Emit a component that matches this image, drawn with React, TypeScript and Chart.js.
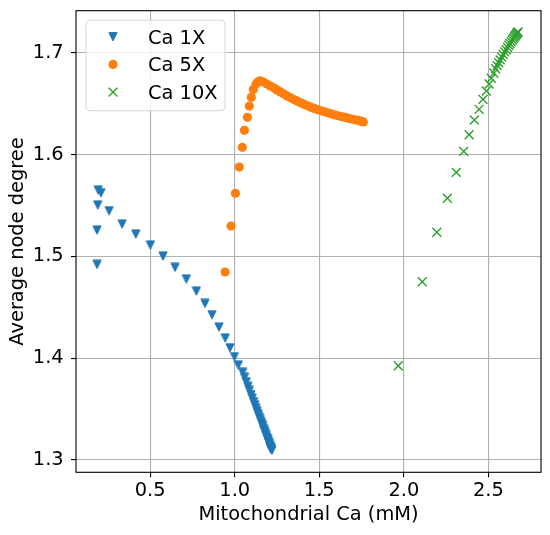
import React, { useEffect, useRef } from 'react';
import { Chart, registerables } from 'chart.js';

Chart.register(...registerables);

const seriesLabels = ['Ca 1X', 'Ca 5X', 'Ca 10X'];
const seriesColors = ['#1f77b4', '#ff7f0e', '#2ca02c'];

const ca1xX = [0.186, 0.186, 0.190, 0.193, 0.209, 0.257, 0.334, 0.415, 0.501, 0.576, 0.647, 0.714, 0.773, 0.824, 0.866, 0.907, 0.944, 0.972, 0.998, 1.021, 1.047,
  1.058, 1.068, 1.078, 1.087, 1.096, 1.104, 1.112, 1.119, 1.126, 1.133, 1.139, 1.145, 1.151, 1.156, 1.161, 1.166, 1.171, 1.175, 1.179, 1.183,
  1.187, 1.191, 1.194, 1.197, 1.200, 1.203, 1.206, 1.209, 1.211, 1.213, 1.215, 1.217, 1.219];
const ca1xY = [1.4921, 1.5258, 1.5504, 1.5651, 1.5625, 1.5448, 1.5317, 1.5219, 1.5111, 1.5003, 1.4892, 1.4777, 1.4659, 1.4538, 1.4426, 1.4305, 1.4197, 1.4102, 1.4014, 1.3932, 1.3861,
  1.3811, 1.3767, 1.3722, 1.3682, 1.3642, 1.3606, 1.3571, 1.3540, 1.3508, 1.3477, 1.3451, 1.3424, 1.3397, 1.3375, 1.3353, 1.3330, 1.3308, 1.3290, 1.3273, 1.3255,
  1.3237, 1.3219, 1.3206, 1.3193, 1.3179, 1.3166, 1.3152, 1.3139, 1.3130, 1.3121, 1.3112, 1.3104, 1.3095];

const ca5xX = [0.943, 0.978, 1.004, 1.027, 1.045, 1.057, 1.075, 1.086, 1.098, 1.110, 1.126, 1.138, 1.150, 1.170, 1.190, 1.210, 1.230, 1.250, 1.270, 1.290,
  1.310, 1.330, 1.350, 1.370, 1.390, 1.410, 1.430, 1.450, 1.470, 1.490, 1.510, 1.530, 1.550, 1.570, 1.590, 1.610, 1.630, 1.650, 1.670, 1.690,
  1.710, 1.730, 1.745, 1.760];
const ca5xY = [1.4846, 1.5298, 1.5619, 1.5877, 1.6071, 1.6238, 1.6365, 1.6476, 1.6562, 1.6640, 1.6693, 1.6715, 1.6725, 1.6712, 1.6693, 1.6674, 1.6655, 1.6635, 1.6615, 1.6595,
  1.6576, 1.6558, 1.6540, 1.6524, 1.6508, 1.6493, 1.6479, 1.6465, 1.6453, 1.6441, 1.6430, 1.6420, 1.6410, 1.6400, 1.6390, 1.6381, 1.6373, 1.6365, 1.6357, 1.6349,
  1.6341, 1.6335, 1.6328, 1.6320];

const ca10xX = [1.967, 2.109, 2.195, 2.257, 2.310, 2.354, 2.386, 2.417, 2.445, 2.468, 2.488, 2.504, 2.517, 2.532, 2.543,
  2.552, 2.561, 2.570, 2.579, 2.588, 2.597, 2.605, 2.613, 2.621, 2.628, 2.635, 2.642, 2.648, 2.654, 2.659, 2.664, 2.668, 2.672, 2.675];
const ca10xY = [1.3925, 1.4750, 1.5236, 1.5570, 1.5825, 1.6031, 1.6195, 1.6339, 1.6444, 1.6542, 1.6624, 1.6693, 1.6749, 1.6798, 1.6843,
  1.6873, 1.6902, 1.6930, 1.6957, 1.6983, 1.7008, 1.7030, 1.7052, 1.7073, 1.7091, 1.7109, 1.7126, 1.7141, 1.7155, 1.7167, 1.7179, 1.7189, 1.7198, 1.7205];

const xTicks = [0.5, 1.0, 1.5, 2.0, 2.5];
const yTicks = [1.3, 1.4, 1.5, 1.6, 1.7];
const xTitle = 'Mitochondrial Ca (mM)';
const yTitle = 'Average node degree';

const FONT = 'DejaVu Sans';
const FS = 19.4;

function makeTriangle(color: string) {
  const c = document.createElement('canvas');
  c.width = 10;
  c.height = 10;
  const g = c.getContext('2d')!;
  g.fillStyle = color;
  g.strokeStyle = color;
  g.lineWidth = 1;
  g.beginPath();
  g.moveTo(0.9, 0.9);
  g.lineTo(9.1, 0.9);
  g.lineTo(5, 9.2);
  g.closePath();
  g.fill();
  g.stroke();
  return c;
}

function toPts(xs: number[], ys: number[]) {
  return xs.map((x, i) => ({ x, y: ys[i] }));
}

const boxPlugin = {
  id: 'mplBox',
  afterDraw(chart: any) {
    const ctx = chart.ctx;
    const ca = chart.chartArea;
    ctx.save();
    // spines
    ctx.strokeStyle = '#000';
    ctx.lineWidth = 1.1;
    ctx.strokeRect(ca.left, ca.top, ca.right - ca.left, ca.bottom - ca.top);
    // legend
    const lx = ca.left + 10;
    const ly = ca.top + 9.5;
    const lw = 139;
    const lh = 90.5;
    const r = 4;
    ctx.beginPath();
    ctx.moveTo(lx + r, ly);
    ctx.lineTo(lx + lw - r, ly);
    ctx.quadraticCurveTo(lx + lw, ly, lx + lw, ly + r);
    ctx.lineTo(lx + lw, ly + lh - r);
    ctx.quadraticCurveTo(lx + lw, ly + lh, lx + lw - r, ly + lh);
    ctx.lineTo(lx + r, ly + lh);
    ctx.quadraticCurveTo(lx, ly + lh, lx, ly + lh - r);
    ctx.lineTo(lx, ly + r);
    ctx.quadraticCurveTo(lx, ly, lx + r, ly);
    ctx.closePath();
    ctx.fillStyle = 'rgba(255,255,255,0.8)';
    ctx.fill();
    ctx.strokeStyle = 'rgba(204,204,204,0.8)';
    ctx.lineWidth = 1;
    ctx.stroke();

    const mx = lx + 27;
    const rows = [ly + 16.5, ly + 44.2, ly + 72];
    ctx.font = `${FS}px "${FONT}"`;
    ctx.textBaseline = 'alphabetic';
    ctx.textAlign = 'left';
    rows.forEach((cy, i) => {
      const col = seriesColors[i];
      ctx.fillStyle = col;
      ctx.strokeStyle = col;
      if (i === 0) {
        ctx.beginPath();
        ctx.moveTo(mx - 4.1, cy - 4.1);
        ctx.lineTo(mx + 4.1, cy - 4.1);
        ctx.lineTo(mx, cy + 4.2);
        ctx.closePath();
        ctx.lineWidth = 1;
        ctx.fill();
        ctx.stroke();
      } else if (i === 1) {
        ctx.beginPath();
        ctx.arc(mx, cy, 4.6, 0, Math.PI * 2);
        ctx.fill();
      } else {
        ctx.lineWidth = 1.4;
        ctx.beginPath();
        ctx.moveTo(mx - 4.4, cy - 4.4);
        ctx.lineTo(mx + 4.4, cy + 4.4);
        ctx.moveTo(mx - 4.4, cy + 4.4);
        ctx.lineTo(mx + 4.4, cy - 4.4);
        ctx.stroke();
      }
      ctx.fillStyle = '#000';
      ctx.fillText(seriesLabels[i], lx + 62, cy + 6.8);
    });
    ctx.restore();
  },
};

export default function App() {
  const ref = useRef<HTMLCanvasElement | null>(null);

  useEffect(() => {
    if (!ref.current) return;
    const tri = makeTriangle(seriesColors[0]);
    const chart = new Chart(ref.current, {
      type: 'scatter',
      data: {
        datasets: [
          {
            label: seriesLabels[0],
            data: toPts(ca1xX, ca1xY),
            pointStyle: tri as any,
            pointRadius: 5,
            backgroundColor: seriesColors[0],
            borderColor: seriesColors[0],
            order: 3,
          },
          {
            label: seriesLabels[1],
            data: toPts(ca5xX, ca5xY),
            pointStyle: 'circle',
            pointRadius: 4.6,
            borderWidth: 0,
            backgroundColor: seriesColors[1],
            borderColor: seriesColors[1],
            order: 2,
          },
          {
            label: seriesLabels[2],
            data: toPts(ca10xX, ca10xY),
            pointStyle: 'crossRot',
            pointRadius: 6.3,
            borderWidth: 1.4,
            backgroundColor: seriesColors[2],
            borderColor: seriesColors[2],
            order: 1,
          },
        ],
      },
      options: {
        animation: false,
        responsive: false,
        devicePixelRatio: window.devicePixelRatio || 1,
        layout: { padding: { top: 10.7, right: 9, left: 0, bottom: 0 } },
        plugins: {
          legend: { display: false },
          tooltip: { enabled: false },
        },
        scales: {
          x: {
            type: 'linear',
            min: 0.0615,
            max: 2.811,
            afterBuildTicks: (s: any) => {
              s.ticks = xTicks.map((v) => ({ value: v }));
            },
            afterFit: (s: any) => {
              s.height = 62.7;
              s.paddingLeft = 0;
              s.paddingRight = 0;
            },
            ticks: {
              callback: (v: any) => Number(v).toFixed(1),
              font: { family: FONT, size: FS },
              color: '#000',
              padding: 2,
              maxRotation: 0,
              autoSkip: false,
            },
            grid: { color: '#b0b0b0', lineWidth: 1.1, tickColor: '#000', tickWidth: 1.1, tickLength: 5, drawTicks: true },
            border: { display: false },
            title: {
              display: true,
              text: xTitle,
              font: { family: FONT, size: FS },
              color: '#000',
              padding: { top: 0, bottom: 8 },
            },
          },
          y: {
            type: 'linear',
            min: 1.2878,
            max: 1.7413,
            afterBuildTicks: (s: any) => {
              s.ticks = yTicks.map((v) => ({ value: v }));
            },
            afterFit: (s: any) => {
              s.width = 76;
              s.paddingTop = 0;
              s.paddingBottom = 0;
            },
            ticks: {
              callback: (v: any) => Number(v).toFixed(1),
              font: { family: FONT, size: FS },
              color: '#000',
              padding: 7.3,
              autoSkip: false,
            },
            grid: { color: '#b0b0b0', lineWidth: 1.1, tickColor: '#000', tickWidth: 1.1, tickLength: 5, drawTicks: true },
            border: { display: false },
            title: {
              display: true,
              text: yTitle,
              font: { family: FONT, size: FS },
              color: '#000',
              padding: { top: 6.5, bottom: 0 },
            },
          },
        },
      },
      plugins: [boxPlugin],
    });
    return () => chart.destroy();
  }, []);

  return (
    <div style={{ position: 'fixed', left: 0, top: 0, width: 550, height: 535, background: '#fff' }}>
      <canvas ref={ref} width={550} height={535} style={{ display: 'block', width: 550, height: 535 }} />
    </div>
  );
}
